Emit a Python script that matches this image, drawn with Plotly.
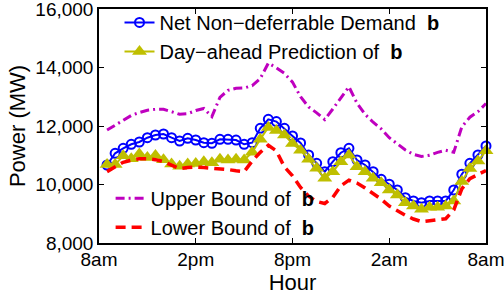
import plotly.graph_objects as go

# Time axis: half-hour steps from 8:30am (0.5 h) to 8am next day (24 h)
hours = [0.5 * i for i in range(1, 49)]

tick_vals = [0, 6, 12, 18, 24]
tick_text = ["8am", "2pm", "8pm", "2am", "8am"]
y_ticks = [8000, 10000, 12000, 14000, 16000]

net_demand = [
    10667, 11067, 11238, 11375, 11453, 11600, 11692, 11727, 11600, 11487, 11580, 11521,
    11430, 11410, 11545, 11545, 11520, 11375, 11430, 11920, 12230, 12150, 11920, 11660,
    11420, 11009, 10725, 10438, 10780, 11087, 11238, 10838, 10667, 10438, 10178, 10010,
    9812, 9549, 9436, 9378, 9436, 9436, 9436, 9812, 10350, 10725, 11009, 11316,
]

prediction = [
    10680, 10680, 10980, 10880, 11040, 10920, 10990, 10850, 10700, 10620, 10700, 10720,
    10780, 10745, 10860, 10838, 10860, 10838, 11100, 11550, 11950, 11850, 11692, 11400,
    11170, 10862, 10554, 10212, 10438, 10780, 11009, 10610, 10438, 10212, 10062, 9812,
    9641, 9378, 9265, 9152, 9220, 9220, 9265, 9440, 10100, 10550, 10800, 11150,
]

upper_bound = [
    11860, 12020, 12180, 12360, 12460, 12540, 12570, 12570, 12490, 12400, 12420, 12530,
    12600, 12320, 12980, 13220, 13290, 13300, 13380, 13620, 14150, 13990, 13800, 13500,
    13000, 12650, 12450, 12220, 12580, 12950, 13340, 12780, 12400, 12130, 11900, 11600,
    11380, 11180, 11030, 10960, 11000, 11100, 11170, 11100, 11970, 12300, 12490, 12770,
]

lower_bound = [
    10440, 10600, 10760, 10830, 10880, 10880, 10850, 10780, 10670, 10540, 10580, 10600,
    10580, 10560, 10560, 10510, 10470, 10440, 10800, 11100, 11340, 11150, 10600, 10300,
    9900, 9600, 9420, 9350, 9560, 9950, 10150, 10050, 9880, 9700, 9500, 9260,
    9100, 8950, 8820, 8730, 8760, 8790, 8830, 9130, 9850, 10200, 10330, 10480,
]

FONT = "Liberation Sans, Arial, sans-serif"

fig = go.Figure()

fig.add_trace(go.Scatter(
    x=hours, y=net_demand, mode="lines+markers",
    name="Net Non\u2212deferrable Demand \u00a0<b>b</b>",
    line=dict(color="#0000FF", width=2),
    marker=dict(symbol="circle-open", size=9, color="#0000FF", line=dict(width=2, color="#0000FF")),
    cliponaxis=False, legend="legend",
))
fig.add_trace(go.Scatter(
    x=hours, y=prediction, mode="lines+markers",
    name="Day\u2212ahead Prediction of \u00a0<b>b</b>",
    line=dict(color="#BFBF00", width=2),
    marker=dict(symbol="triangle-up", size=13, color="#BFBF00"),
    cliponaxis=False, legend="legend",
))
fig.add_trace(go.Scatter(
    x=hours, y=upper_bound, mode="lines",
    name="Upper Bound of \u00a0<b>b</b>",
    line=dict(color="#BF00BF", width=3, dash="9px,4px,2px,4px"),
    legend="legend2",
))
fig.add_trace(go.Scatter(
    x=hours, y=lower_bound, mode="lines",
    name="Lower Bound of \u00a0<b>b</b>",
    line=dict(color="#FF0000", width=3.5, dash="10px,6px"),
    legend="legend2",
))

axis_common = dict(
    showline=True, linecolor="black", linewidth=1.5, mirror="ticks",
    ticks="inside", ticklen=5, tickcolor="black", showgrid=False, zeroline=False,
    tickfont=dict(family=FONT, size=19, color="black"), automargin=False,
    ticklabeloverflow="allow",
)

fig.update_layout(
    template="none",
    width=504, height=296,
    margin=dict(l=99, r=18, t=9, b=53, autoexpand=False),
    paper_bgcolor="white", plot_bgcolor="white",
    font=dict(family=FONT, color="black"),
    xaxis=dict(
        range=[0, 24], tickvals=tick_vals, ticktext=tick_text, ticklabelstandoff=-2,
        title=dict(text="Hour", font=dict(family=FONT, size=22), standoff=0),
        **axis_common,
    ),
    yaxis=dict(
        range=[8000, 16000], tickvals=y_ticks, tickformat=",d",
        title=dict(text="Power (MW)", font=dict(family=FONT, size=22), standoff=4),
        **axis_common,
    ),
    legend=dict(
        x=0.053, y=1.026, xanchor="left", yanchor="top",
        bgcolor="rgba(0,0,0,0)", borderwidth=0,
        font=dict(family=FONT, size=20, color="black"),
        tracegroupgap=0,
    ),
    legend2=dict(
        x=0.03, y=-0.016, xanchor="left", yanchor="bottom",
        bgcolor="rgba(0,0,0,0)", borderwidth=0,
        font=dict(family=FONT, size=20, color="black"),
    ),
    showlegend=True,
)

fig.write_html("out.html", config={"displayModeBar": False},
               post_script="document.body.style.margin='0';")
